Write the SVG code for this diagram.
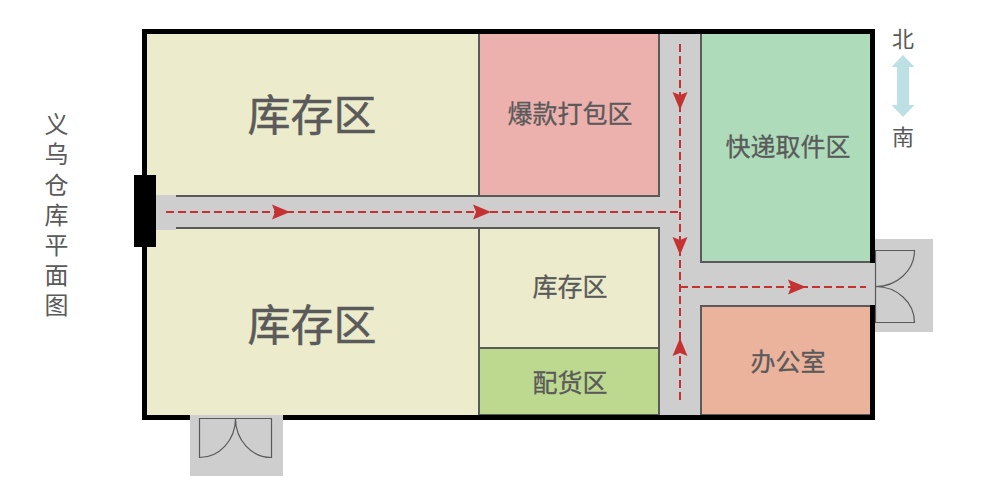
<svg xmlns="http://www.w3.org/2000/svg" width="1000" height="500" viewBox="0 0 1000 500">
<style>
text{font-family:"Noto Sans CJK SC","Noto Sans",sans-serif;fill:#5a5a5a;text-anchor:middle;font-weight:400}
.wall{stroke:#5a5a5a;stroke-width:2}
.big{font-size:43px;stroke:#5a5a5a;stroke-width:.5}.mid{font-size:25px;stroke:#5a5a5a;stroke-width:.3}.side{font-size:24px;writing-mode:vertical-rl;letter-spacing:6.200px;text-anchor:start}.dir{font-size:22px}
.route{fill:none;stroke:#c53232;stroke-width:2;stroke-dasharray:8 4}
.head{fill:#c53232}
.door{fill:none;stroke:#5a5a5a;stroke-width:1.200}
.gray{fill:#cecece}
</style>
<rect width="1000" height="500" fill="#fff"/>
<g id="building"><rect x="144.500" y="31.500" width="728" height="386" fill="#cecece" stroke="#000" stroke-width="5"/></g>
<g id="zone-storage-nw"><rect x="147" y="34" width="331" height="162" fill="#ecebcb"/><line class="wall" x1="176" y1="196" x2="478" y2="196"/><text class="big" x="312" y="131">库存区</text></g>
<g id="zone-storage-sw"><rect x="147" y="228" width="331" height="187" fill="#ecebcb"/><line class="wall" x1="176" y1="228" x2="478" y2="228"/><text class="big" x="312" y="341">库存区</text></g>
<g id="zone-packing"><rect class="wall" x="479" y="33" width="180" height="163" fill="#ecb0ad"/><text class="mid" x="570" y="123">爆款打包区</text></g>
<g id="zone-storage-small"><rect class="wall" x="479" y="228" width="180" height="120" fill="#ecebcb"/><text class="mid" x="570" y="296">库存区</text></g>
<g id="zone-dispatch"><rect class="wall" x="479" y="348" width="180" height="67" fill="#bdd88f"/><text class="mid" x="570" y="392">配货区</text></g>
<g id="zone-express"><rect class="wall" x="701" y="33" width="170" height="229" fill="#aedcba"/><text class="mid" x="788" y="156">快递取件区</text></g>
<g id="zone-office"><rect class="wall" x="701" y="306" width="170" height="109" fill="#ebb29c"/><text class="mid" x="788" y="371">办公室</text></g>
<g id="outer-wall"><rect x="144.500" y="31.500" width="728" height="386" fill="none" stroke="#000" stroke-width="5"/></g>
<g id="door-west"><rect class="gray" x="147" y="195" width="29" height="35"/><rect x="134" y="175" width="22" height="72" fill="#000"/></g>
<g id="door-east"><rect class="gray" x="875" y="239" width="58" height="93"/><rect class="gray" x="869" y="263" width="7" height="42"/><path class="door" d="M875.500 250.500H914.500A39 36 0 0 1 875.500 286.500A39 36 0 0 1 914.500 322.500H875.500Z"/></g>
<g id="door-south"><rect class="gray" x="190" y="415" width="93" height="61"/><path class="door" d="M199.500 457.500V418.500H271.500V457.500A36 39 0 0 1 235.500 418.500A36 39 0 0 1 199.500 457.500Z"/></g>
<g id="connectors">
<path class="route" d="M166 212H680"/>
<path class="route" d="M680 44V287"/>
<path class="route" d="M680 400V287"/>
<path class="route" d="M680 287H866"/>
<path class="head" d="M272 204.500L290 212L272 219.500L275 212Z"/>
<path class="head" d="M473 204.500L491 212L473 219.500L476 212Z"/>
<path class="head" d="M788 279.500L806 287L788 294.500L791 287Z"/>
<path class="head" d="M672.500 92L680 110L687.500 92L680 95Z"/>
<path class="head" d="M672.500 237L680 255L687.500 237L680 240Z"/>
<path class="head" d="M672.500 356L680 338L687.500 356L680 353Z"/>
</g>
<g id="compass"><path d="M903 55L914.500 67H909V105H914.500L903 117L891.500 105H897V67H891.500Z" fill="#bce0e3"/><text class="dir" x="903" y="47">北</text><text class="dir" x="903" y="145">南</text></g>
<g id="title"><text class="side" x="56.500" y="112">义乌仓库平面图</text></g>
</svg>
